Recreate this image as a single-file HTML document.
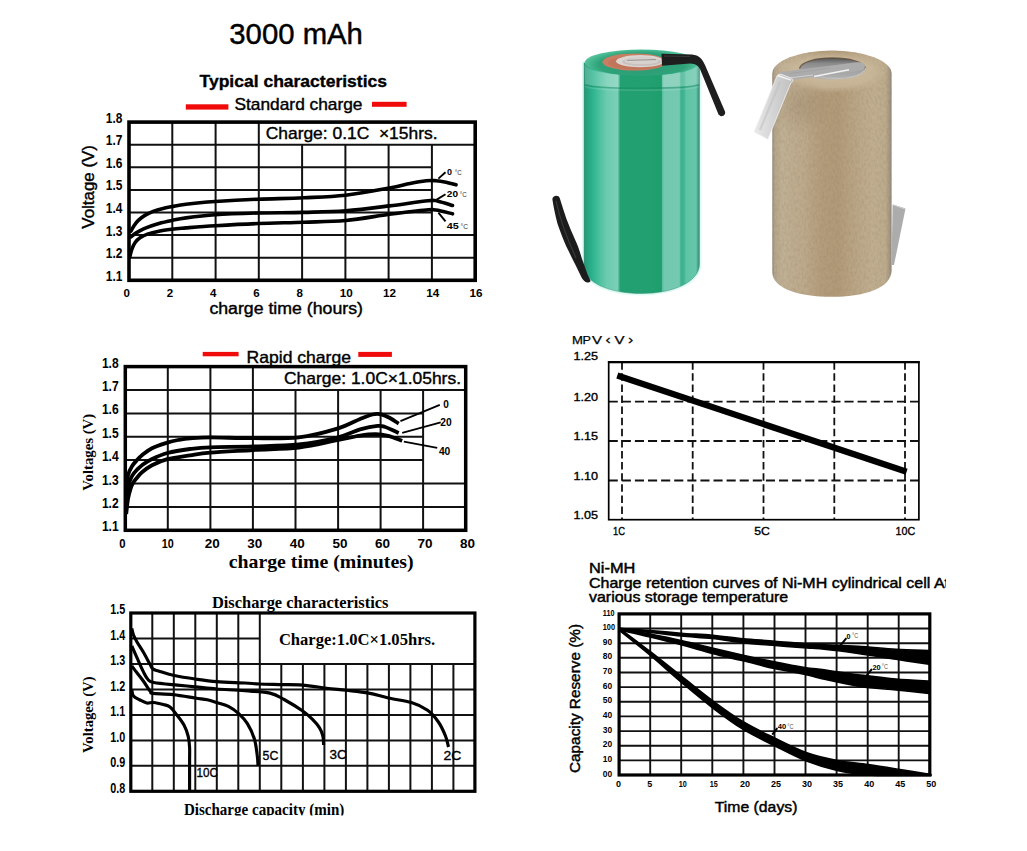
<!DOCTYPE html>
<html><head><meta charset="utf-8"><title>3000 mAh</title>
<style>
html,body{margin:0;padding:0;background:#fff;}
body{width:1027px;height:851px;overflow:hidden;position:relative;font-family:"Liberation Sans",sans-serif;}
svg{position:absolute;left:0;top:0;}
</style></head><body>
<svg width="1027" height="851" viewBox="0 0 1027 851">
<text x="229.3" y="43.8" font-family="Liberation Sans" font-size="30.00" font-weight="normal" text-anchor="start" fill="#000" textLength="133.6" lengthAdjust="spacingAndGlyphs" stroke="#000" stroke-width="0.45" >3000 mAh</text>
<text x="199.5" y="86.8" font-family="Liberation Sans" font-size="16.60" font-weight="bold" text-anchor="start" fill="#000" textLength="187.5" lengthAdjust="spacingAndGlyphs" stroke="#000" stroke-width="0.35" >Typical characteristics</text>
<text x="234.5" y="110.0" font-family="Liberation Sans" font-size="16.40" font-weight="normal" text-anchor="start" fill="#000" textLength="128.0" lengthAdjust="spacingAndGlyphs" stroke="#000" stroke-width="0.40" >Standard charge</text>
<rect x="185.8" y="104.3" width="42.6" height="5.3" fill="#f00a0a"/>
<rect x="372" y="101.8" width="34.6" height="5" fill="#f00a0a"/>
<line x1="129.0" y1="144.7" x2="475.2" y2="144.7" stroke="#111" stroke-width="2.00" />
<line x1="129.0" y1="167.3" x2="431.9" y2="167.3" stroke="#111" stroke-width="2.00" />
<line x1="129.0" y1="189.9" x2="431.9" y2="189.9" stroke="#111" stroke-width="2.00" />
<line x1="129.0" y1="212.5" x2="431.9" y2="212.5" stroke="#111" stroke-width="2.00" />
<line x1="129.0" y1="235.1" x2="475.2" y2="235.1" stroke="#111" stroke-width="2.00" />
<line x1="129.0" y1="257.7" x2="475.2" y2="257.7" stroke="#111" stroke-width="2.00" />
<line x1="172.3" y1="122.1" x2="172.3" y2="280.3" stroke="#111" stroke-width="2.00" />
<line x1="215.6" y1="122.1" x2="215.6" y2="280.3" stroke="#111" stroke-width="2.00" />
<line x1="258.8" y1="122.1" x2="258.8" y2="280.3" stroke="#111" stroke-width="2.00" />
<line x1="302.1" y1="144.7" x2="302.1" y2="280.3" stroke="#111" stroke-width="2.00" />
<line x1="345.4" y1="144.7" x2="345.4" y2="280.3" stroke="#111" stroke-width="2.00" />
<line x1="388.6" y1="144.7" x2="388.6" y2="280.3" stroke="#111" stroke-width="2.00" />
<line x1="431.9" y1="144.7" x2="431.9" y2="280.3" stroke="#111" stroke-width="2.00" />
<rect x="129.0" y="122.1" width="346.2" height="158.2" fill="none" stroke="#000" stroke-width="3.6"/>
<text x="265.7" y="139.1" font-family="Liberation Sans" font-size="17.00" font-weight="normal" text-anchor="start" fill="#000" textLength="171.8" lengthAdjust="spacingAndGlyphs" stroke="#000" stroke-width="0.40" >Charge: 0.1C&#160;&#160;×15hrs.</text>
<text x="122.4" y="122.5" font-family="Liberation Sans" font-size="14.00" font-weight="bold" text-anchor="end" fill="#000" textLength="16.6" lengthAdjust="spacingAndGlyphs" >1.8</text>
<text x="122.4" y="145.1" font-family="Liberation Sans" font-size="14.00" font-weight="bold" text-anchor="end" fill="#000" textLength="16.6" lengthAdjust="spacingAndGlyphs" >1.7</text>
<text x="122.4" y="167.7" font-family="Liberation Sans" font-size="14.00" font-weight="bold" text-anchor="end" fill="#000" textLength="16.6" lengthAdjust="spacingAndGlyphs" >1.6</text>
<text x="122.4" y="190.3" font-family="Liberation Sans" font-size="14.00" font-weight="bold" text-anchor="end" fill="#000" textLength="16.6" lengthAdjust="spacingAndGlyphs" >1.5</text>
<text x="122.4" y="212.9" font-family="Liberation Sans" font-size="14.00" font-weight="bold" text-anchor="end" fill="#000" textLength="16.6" lengthAdjust="spacingAndGlyphs" >1.4</text>
<text x="122.4" y="235.5" font-family="Liberation Sans" font-size="14.00" font-weight="bold" text-anchor="end" fill="#000" textLength="16.6" lengthAdjust="spacingAndGlyphs" >1.3</text>
<text x="122.4" y="258.1" font-family="Liberation Sans" font-size="14.00" font-weight="bold" text-anchor="end" fill="#000" textLength="16.6" lengthAdjust="spacingAndGlyphs" >1.2</text>
<text x="122.4" y="280.7" font-family="Liberation Sans" font-size="14.00" font-weight="bold" text-anchor="end" fill="#000" textLength="16.6" lengthAdjust="spacingAndGlyphs" >1.1</text>
<text x="126.6" y="297.3" font-family="Liberation Sans" font-size="11.80" font-weight="bold" text-anchor="middle" fill="#000" textLength="6.4" lengthAdjust="spacingAndGlyphs" >0</text>
<text x="169.9" y="297.3" font-family="Liberation Sans" font-size="11.80" font-weight="bold" text-anchor="middle" fill="#000" textLength="6.4" lengthAdjust="spacingAndGlyphs" >2</text>
<text x="213.2" y="297.3" font-family="Liberation Sans" font-size="11.80" font-weight="bold" text-anchor="middle" fill="#000" textLength="6.4" lengthAdjust="spacingAndGlyphs" >4</text>
<text x="256.4" y="297.3" font-family="Liberation Sans" font-size="11.80" font-weight="bold" text-anchor="middle" fill="#000" textLength="6.4" lengthAdjust="spacingAndGlyphs" >6</text>
<text x="299.7" y="297.3" font-family="Liberation Sans" font-size="11.80" font-weight="bold" text-anchor="middle" fill="#000" textLength="6.4" lengthAdjust="spacingAndGlyphs" >8</text>
<text x="346.3" y="297.3" font-family="Liberation Sans" font-size="11.80" font-weight="bold" text-anchor="middle" fill="#000" textLength="13.0" lengthAdjust="spacingAndGlyphs" >10</text>
<text x="389.5" y="297.3" font-family="Liberation Sans" font-size="11.80" font-weight="bold" text-anchor="middle" fill="#000" textLength="13.0" lengthAdjust="spacingAndGlyphs" >12</text>
<text x="432.8" y="297.3" font-family="Liberation Sans" font-size="11.80" font-weight="bold" text-anchor="middle" fill="#000" textLength="13.0" lengthAdjust="spacingAndGlyphs" >14</text>
<text x="476.1" y="297.3" font-family="Liberation Sans" font-size="11.80" font-weight="bold" text-anchor="middle" fill="#000" textLength="13.0" lengthAdjust="spacingAndGlyphs" >16</text>
<text transform="translate(94.0,228.7) rotate(-90)" font-family="Liberation Sans" font-size="17" stroke="#000" stroke-width="0.4" textLength="83.7" lengthAdjust="spacingAndGlyphs">Voltage (V)</text>
<text x="209.4" y="313.6" font-family="Liberation Sans" font-size="15.80" font-weight="normal" text-anchor="start" fill="#000" textLength="153.5" lengthAdjust="spacingAndGlyphs" stroke="#000" stroke-width="0.40" >charge time (hours)</text>
<path d="M130.9,231.2 C131.4,230.2 133.0,227.3 134.2,225.5 C135.4,223.7 136.5,222.1 138.3,220.4 C140.1,218.7 142.4,216.9 144.9,215.4 C147.4,213.9 150.2,212.6 153.2,211.4 C156.2,210.2 159.8,209.2 163.0,208.4 C166.2,207.6 168.3,207.3 172.1,206.6 C175.9,205.9 178.8,205.0 186.0,204.2 C193.2,203.3 203.3,202.3 215.3,201.5 C227.3,200.7 243.4,199.8 258.2,199.2 C272.9,198.6 289.2,198.5 303.8,197.8 C318.4,197.1 331.3,196.8 345.6,195.2 C359.9,193.6 378.7,189.9 389.4,188.0 C400.1,186.1 403.9,184.7 410.0,183.5 C416.1,182.3 421.9,181.3 426.2,180.8 C430.5,180.3 432.7,180.5 436.0,180.7 C439.3,180.9 442.7,181.5 446.0,182.2 C449.3,182.9 454.3,184.4 456.0,184.8" fill="none" stroke="#000" stroke-width="3.6" stroke-linecap="round"/>
<path d="M130.9,236.8 C131.4,236.4 133.0,235.1 134.2,234.2 C135.4,233.3 136.2,232.7 138.3,231.6 C140.4,230.5 143.2,229.0 146.6,227.6 C150.0,226.2 154.7,224.6 158.9,223.4 C163.2,222.2 167.6,221.3 172.1,220.4 C176.6,219.5 178.8,218.9 186.0,217.9 C193.2,216.9 203.3,215.5 215.3,214.7 C227.3,213.9 243.4,213.4 258.2,213.0 C272.9,212.6 289.2,212.8 303.8,212.4 C318.4,212.0 331.3,211.9 345.6,210.8 C359.9,209.7 375.7,207.6 389.4,205.9 C403.1,204.2 419.9,201.5 428.0,200.7 C436.1,199.9 433.9,200.4 438.0,201.2 C442.1,202.0 450.1,204.8 452.5,205.5" fill="none" stroke="#000" stroke-width="3.6" stroke-linecap="round"/>
<path d="M129.8,257.0 C130.1,255.7 130.9,251.7 131.8,249.3 C132.7,246.9 133.6,244.6 135.0,242.7 C136.4,240.8 137.9,239.2 140.0,237.8 C142.1,236.4 144.2,235.2 147.4,234.1 C150.6,233.0 154.8,232.0 158.9,231.2 C163.0,230.4 167.6,229.8 172.1,229.2 C176.6,228.6 178.8,228.5 186.0,227.9 C193.2,227.3 203.3,226.4 215.3,225.7 C227.3,225.0 243.4,224.1 258.2,223.5 C272.9,222.9 289.2,222.7 303.8,222.2 C318.4,221.7 331.3,221.8 345.6,220.5 C359.9,219.2 376.0,216.1 389.4,214.3 C402.8,212.6 418.4,210.7 426.2,210.0 C434.0,209.3 431.6,209.4 436.0,210.0 C440.4,210.6 449.8,213.2 452.5,213.8" fill="none" stroke="#000" stroke-width="3.6" stroke-linecap="round"/>
<line x1="438.4" y1="178.6" x2="445.5" y2="172.3" stroke="#000" stroke-width="1.90" />
<line x1="436.7" y1="199.6" x2="445.5" y2="194.2" stroke="#000" stroke-width="1.90" />
<line x1="438.4" y1="212.6" x2="445.5" y2="221.3" stroke="#000" stroke-width="1.90" />
<text x="447.0" y="174.5" font-family="Liberation Sans" font-size="9.20" font-weight="bold" text-anchor="start" fill="#000" textLength="5.0" lengthAdjust="spacingAndGlyphs" >0</text>
<text x="454.8" y="174.5" font-family="Liberation Sans" font-size="7.80" font-weight="normal" text-anchor="start" fill="#333" textLength="7.0" lengthAdjust="spacingAndGlyphs" >°C</text>
<text x="446.8" y="196.6" font-family="Liberation Sans" font-size="9.20" font-weight="bold" text-anchor="start" fill="#000" textLength="11.2" lengthAdjust="spacingAndGlyphs" >20</text>
<text x="459.8" y="196.6" font-family="Liberation Sans" font-size="7.80" font-weight="normal" text-anchor="start" fill="#333" textLength="7.0" lengthAdjust="spacingAndGlyphs" >°C</text>
<text x="446.8" y="228.8" font-family="Liberation Sans" font-size="9.20" font-weight="bold" text-anchor="start" fill="#000" textLength="12.0" lengthAdjust="spacingAndGlyphs" >45</text>
<text x="460.6" y="228.8" font-family="Liberation Sans" font-size="7.80" font-weight="normal" text-anchor="start" fill="#333" textLength="7.4" lengthAdjust="spacingAndGlyphs" >°C</text>
<line x1="125.3" y1="390.0" x2="465.7" y2="390.0" stroke="#111" stroke-width="2.00" />
<line x1="125.3" y1="413.4" x2="423.1" y2="413.4" stroke="#111" stroke-width="2.00" />
<line x1="125.3" y1="436.8" x2="423.1" y2="436.8" stroke="#111" stroke-width="2.00" />
<line x1="125.3" y1="460.1" x2="423.1" y2="460.1" stroke="#111" stroke-width="2.00" />
<line x1="125.3" y1="483.5" x2="465.7" y2="483.5" stroke="#111" stroke-width="2.00" />
<line x1="125.3" y1="506.9" x2="465.7" y2="506.9" stroke="#111" stroke-width="2.00" />
<line x1="167.8" y1="366.6" x2="167.8" y2="530.3" stroke="#111" stroke-width="2.00" />
<line x1="210.4" y1="366.6" x2="210.4" y2="530.3" stroke="#111" stroke-width="2.00" />
<line x1="252.9" y1="366.6" x2="252.9" y2="530.3" stroke="#111" stroke-width="2.00" />
<line x1="295.5" y1="390.0" x2="295.5" y2="530.3" stroke="#111" stroke-width="2.00" />
<line x1="338.1" y1="390.0" x2="338.1" y2="530.3" stroke="#111" stroke-width="2.00" />
<line x1="380.6" y1="390.0" x2="380.6" y2="530.3" stroke="#111" stroke-width="2.00" />
<line x1="423.1" y1="390.0" x2="423.1" y2="530.3" stroke="#111" stroke-width="2.00" />
<rect x="125.3" y="366.6" width="340.4" height="163.7" fill="none" stroke="#000" stroke-width="3.5"/>
<text x="284.0" y="383.8" font-family="Liberation Sans" font-size="17.00" font-weight="normal" text-anchor="start" fill="#000" textLength="177.0" lengthAdjust="spacingAndGlyphs" stroke="#000" stroke-width="0.40" >Charge: 1.0C×1.05hrs.</text>
<text x="246.5" y="362.6" font-family="Liberation Sans" font-size="16.50" font-weight="normal" text-anchor="start" fill="#000" textLength="104.5" lengthAdjust="spacingAndGlyphs" stroke="#000" stroke-width="0.40" >Rapid charge</text>
<rect x="202.7" y="351.9" width="35.9" height="4.4" fill="#f00a0a"/>
<rect x="358.3" y="351.9" width="33.6" height="5" fill="#f00a0a"/>
<text x="118.7" y="367.6" font-family="Liberation Sans" font-size="14.00" font-weight="bold" text-anchor="end" fill="#000" textLength="16.8" lengthAdjust="spacingAndGlyphs" >1.8</text>
<text x="118.7" y="391.0" font-family="Liberation Sans" font-size="14.00" font-weight="bold" text-anchor="end" fill="#000" textLength="16.8" lengthAdjust="spacingAndGlyphs" >1.7</text>
<text x="118.7" y="414.4" font-family="Liberation Sans" font-size="14.00" font-weight="bold" text-anchor="end" fill="#000" textLength="16.8" lengthAdjust="spacingAndGlyphs" >1.6</text>
<text x="118.7" y="437.8" font-family="Liberation Sans" font-size="14.00" font-weight="bold" text-anchor="end" fill="#000" textLength="16.8" lengthAdjust="spacingAndGlyphs" >1.5</text>
<text x="118.7" y="461.1" font-family="Liberation Sans" font-size="14.00" font-weight="bold" text-anchor="end" fill="#000" textLength="16.8" lengthAdjust="spacingAndGlyphs" >1.4</text>
<text x="118.7" y="484.5" font-family="Liberation Sans" font-size="14.00" font-weight="bold" text-anchor="end" fill="#000" textLength="16.8" lengthAdjust="spacingAndGlyphs" >1.3</text>
<text x="118.7" y="507.9" font-family="Liberation Sans" font-size="14.00" font-weight="bold" text-anchor="end" fill="#000" textLength="16.8" lengthAdjust="spacingAndGlyphs" >1.2</text>
<text x="118.7" y="531.3" font-family="Liberation Sans" font-size="14.00" font-weight="bold" text-anchor="end" fill="#000" textLength="16.8" lengthAdjust="spacingAndGlyphs" >1.1</text>
<text x="122.3" y="547.8" font-family="Liberation Sans" font-size="12.20" font-weight="bold" text-anchor="middle" fill="#000" textLength="6.3" lengthAdjust="spacingAndGlyphs" >0</text>
<text x="167.8" y="547.8" font-family="Liberation Sans" font-size="12.20" font-weight="bold" text-anchor="middle" fill="#000" textLength="12.0" lengthAdjust="spacingAndGlyphs" >10</text>
<text x="212.2" y="547.8" font-family="Liberation Sans" font-size="12.20" font-weight="bold" text-anchor="middle" fill="#000" textLength="15.0" lengthAdjust="spacingAndGlyphs" >20</text>
<text x="254.8" y="547.8" font-family="Liberation Sans" font-size="12.20" font-weight="bold" text-anchor="middle" fill="#000" textLength="15.0" lengthAdjust="spacingAndGlyphs" >30</text>
<text x="297.3" y="547.8" font-family="Liberation Sans" font-size="12.20" font-weight="bold" text-anchor="middle" fill="#000" textLength="15.0" lengthAdjust="spacingAndGlyphs" >40</text>
<text x="339.9" y="547.8" font-family="Liberation Sans" font-size="12.20" font-weight="bold" text-anchor="middle" fill="#000" textLength="15.0" lengthAdjust="spacingAndGlyphs" >50</text>
<text x="382.4" y="547.8" font-family="Liberation Sans" font-size="12.20" font-weight="bold" text-anchor="middle" fill="#000" textLength="15.0" lengthAdjust="spacingAndGlyphs" >60</text>
<text x="424.9" y="547.8" font-family="Liberation Sans" font-size="12.20" font-weight="bold" text-anchor="middle" fill="#000" textLength="15.0" lengthAdjust="spacingAndGlyphs" >70</text>
<text x="467.5" y="547.8" font-family="Liberation Sans" font-size="12.20" font-weight="bold" text-anchor="middle" fill="#000" textLength="15.0" lengthAdjust="spacingAndGlyphs" >80</text>
<text transform="translate(92.8,490.8) rotate(-90)" font-family="Liberation Serif" font-weight="bold" font-size="15.0" textLength="77" lengthAdjust="spacingAndGlyphs">Voltages (V)</text>
<text x="228.7" y="568.1" font-family="Liberation Serif" font-size="19.50" font-weight="bold" text-anchor="start" fill="#000" textLength="184.8" lengthAdjust="spacingAndGlyphs" >charge time (minutes)</text>
<path d="M125.8,500.0 C126.0,497.7 126.4,490.2 126.8,486.0 C127.2,481.8 127.1,478.3 128.0,475.0 C128.9,471.7 130.5,468.8 132.0,466.3 C133.5,463.8 135.3,461.9 137.0,460.0 C138.7,458.1 139.5,457.2 142.0,455.2 C144.5,453.2 147.8,450.3 152.0,448.2 C156.2,446.1 163.0,444.0 167.3,442.6 C171.6,441.2 174.2,440.7 178.0,440.0 C181.8,439.3 184.7,438.7 190.1,438.3 C195.5,437.9 199.8,437.4 210.3,437.4 C220.8,437.4 238.4,438.2 253.2,438.2 C267.9,438.2 284.8,438.9 298.8,437.3 C312.8,435.7 327.1,431.7 337.3,428.6 C347.5,425.6 354.2,421.4 360.1,419.0 C366.0,416.6 368.9,415.3 372.4,414.5 C375.9,413.7 378.2,413.7 381.1,414.3 C384.0,414.9 387.0,416.4 389.9,418.0 C392.8,419.6 397.2,422.7 398.7,423.6" fill="none" stroke="#000" stroke-width="3.8" stroke-linecap="butt"/>
<path d="M126.0,505.0 C126.3,502.3 126.9,493.1 127.6,489.0 C128.3,484.9 129.2,482.8 130.0,480.5 C130.8,478.2 131.3,477.0 132.5,475.2 C133.7,473.4 135.4,471.5 137.0,469.8 C138.6,468.1 139.5,467.0 142.0,465.2 C144.5,463.4 147.8,461.0 152.0,459.0 C156.2,457.0 161.0,454.7 167.3,453.0 C173.6,451.3 182.8,449.9 190.0,449.0 C197.2,448.1 199.8,447.7 210.3,447.3 C220.8,446.9 238.4,447.0 253.2,446.5 C267.9,446.0 284.8,446.0 298.8,444.5 C312.8,443.0 327.1,440.0 337.3,437.5 C347.5,435.0 353.4,431.3 360.1,429.4 C366.8,427.5 373.5,426.3 377.6,425.9 C381.7,425.5 381.1,425.6 384.6,426.8 C388.1,428.0 396.4,432.0 398.7,433.0" fill="none" stroke="#000" stroke-width="3.8" stroke-linecap="butt"/>
<path d="M126.2,514.0 C126.5,511.5 127.3,503.2 128.0,499.0 C128.7,494.8 129.7,491.7 130.5,489.0 C131.3,486.3 131.9,484.9 133.0,483.0 C134.1,481.1 135.5,479.6 137.0,477.8 C138.5,476.0 139.5,474.4 142.0,472.3 C144.5,470.2 147.8,467.5 152.0,465.3 C156.2,463.1 161.0,460.9 167.3,459.2 C173.6,457.5 182.8,456.4 190.0,455.3 C197.2,454.2 199.8,453.5 210.3,452.6 C220.8,451.7 238.4,450.9 253.2,450.0 C267.9,449.1 284.8,449.1 298.8,447.5 C312.8,445.9 327.1,442.2 337.3,440.2 C347.5,438.2 353.7,436.6 360.1,435.6 C366.5,434.6 371.2,434.1 375.9,434.2 C380.6,434.2 383.7,434.8 388.1,435.9 C392.5,437.0 399.9,440.0 402.2,440.8" fill="none" stroke="#000" stroke-width="3.8" stroke-linecap="butt"/>
<line x1="400.4" y1="421.2" x2="439.8" y2="404.9" stroke="#000" stroke-width="1.80" />
<line x1="402.2" y1="432.9" x2="440.7" y2="422.4" stroke="#000" stroke-width="1.80" />
<line x1="403.9" y1="441.7" x2="437.2" y2="447.8" stroke="#000" stroke-width="1.80" />
<text x="443.3" y="407.6" font-family="Liberation Sans" font-size="10.80" font-weight="bold" text-anchor="start" fill="#000" textLength="5.6" lengthAdjust="spacingAndGlyphs" >0</text>
<text x="440.2" y="426.2" font-family="Liberation Sans" font-size="10.80" font-weight="bold" text-anchor="start" fill="#000" textLength="11.4" lengthAdjust="spacingAndGlyphs" >20</text>
<text x="438.9" y="455.4" font-family="Liberation Sans" font-size="10.80" font-weight="bold" text-anchor="start" fill="#000" textLength="11.4" lengthAdjust="spacingAndGlyphs" >40</text>
<line x1="130.8" y1="638.5" x2="259.8" y2="638.5" stroke="#111" stroke-width="2.00" />
<line x1="130.8" y1="663.9" x2="474.9" y2="663.9" stroke="#111" stroke-width="2.00" />
<line x1="130.8" y1="689.4" x2="474.9" y2="689.4" stroke="#111" stroke-width="2.00" />
<line x1="130.8" y1="714.9" x2="474.9" y2="714.9" stroke="#111" stroke-width="2.00" />
<line x1="130.8" y1="740.4" x2="474.9" y2="740.4" stroke="#111" stroke-width="2.00" />
<line x1="130.8" y1="765.8" x2="474.9" y2="765.8" stroke="#111" stroke-width="2.00" />
<line x1="152.3" y1="613.0" x2="152.3" y2="791.3" stroke="#111" stroke-width="2.00" />
<line x1="173.8" y1="613.0" x2="173.8" y2="791.3" stroke="#111" stroke-width="2.00" />
<line x1="195.3" y1="613.0" x2="195.3" y2="791.3" stroke="#111" stroke-width="2.00" />
<line x1="216.8" y1="613.0" x2="216.8" y2="791.3" stroke="#111" stroke-width="2.00" />
<line x1="238.3" y1="613.0" x2="238.3" y2="791.3" stroke="#111" stroke-width="2.00" />
<line x1="259.8" y1="613.0" x2="259.8" y2="791.3" stroke="#111" stroke-width="2.00" />
<line x1="281.3" y1="663.9" x2="281.3" y2="791.3" stroke="#111" stroke-width="2.00" />
<line x1="302.9" y1="663.9" x2="302.9" y2="791.3" stroke="#111" stroke-width="2.00" />
<line x1="324.4" y1="663.9" x2="324.4" y2="791.3" stroke="#111" stroke-width="2.00" />
<line x1="345.9" y1="663.9" x2="345.9" y2="791.3" stroke="#111" stroke-width="2.00" />
<line x1="367.4" y1="663.9" x2="367.4" y2="791.3" stroke="#111" stroke-width="2.00" />
<line x1="388.9" y1="663.9" x2="388.9" y2="791.3" stroke="#111" stroke-width="2.00" />
<line x1="410.4" y1="663.9" x2="410.4" y2="791.3" stroke="#111" stroke-width="2.00" />
<line x1="431.9" y1="663.9" x2="431.9" y2="791.3" stroke="#111" stroke-width="2.00" />
<line x1="453.4" y1="663.9" x2="453.4" y2="791.3" stroke="#111" stroke-width="2.00" />
<rect x="130.8" y="613.0" width="344.1" height="178.3" fill="none" stroke="#000" stroke-width="3.2"/>
<text x="278.9" y="645.0" font-family="Liberation Serif" font-size="17.20" font-weight="bold" text-anchor="start" fill="#000" textLength="156.2" lengthAdjust="spacingAndGlyphs" >Charge:1.0C×1.05hrs.</text>
<text x="211.9" y="607.8" font-family="Liberation Serif" font-size="16.90" font-weight="bold" text-anchor="start" fill="#000" textLength="176.5" lengthAdjust="spacingAndGlyphs" >Discharge characteristics</text>
<clipPath id="clipdc"><rect x="0" y="790" width="600" height="25.4"/></clipPath>
<text x="183.9" y="814.8" font-family="Liberation Serif" font-size="16.30" font-weight="bold" text-anchor="start" fill="#000" textLength="160.4" lengthAdjust="spacingAndGlyphs" clip-path="url(#clipdc)">Discharge capacity (min)</text>
<text x="125.2" y="614.2" font-family="Liberation Sans" font-size="14.20" font-weight="bold" text-anchor="end" fill="#000" textLength="15.0" lengthAdjust="spacingAndGlyphs" >1.5</text>
<text x="125.2" y="639.7" font-family="Liberation Sans" font-size="14.20" font-weight="bold" text-anchor="end" fill="#000" textLength="15.0" lengthAdjust="spacingAndGlyphs" >1.4</text>
<text x="125.2" y="665.1" font-family="Liberation Sans" font-size="14.20" font-weight="bold" text-anchor="end" fill="#000" textLength="15.0" lengthAdjust="spacingAndGlyphs" >1.3</text>
<text x="125.2" y="690.6" font-family="Liberation Sans" font-size="14.20" font-weight="bold" text-anchor="end" fill="#000" textLength="15.0" lengthAdjust="spacingAndGlyphs" >1.2</text>
<text x="125.2" y="716.1" font-family="Liberation Sans" font-size="14.20" font-weight="bold" text-anchor="end" fill="#000" textLength="15.0" lengthAdjust="spacingAndGlyphs" >1.1</text>
<text x="125.2" y="741.6" font-family="Liberation Sans" font-size="14.20" font-weight="bold" text-anchor="end" fill="#000" textLength="15.0" lengthAdjust="spacingAndGlyphs" >1.0</text>
<text x="125.2" y="767.0" font-family="Liberation Sans" font-size="14.20" font-weight="bold" text-anchor="end" fill="#000" textLength="15.0" lengthAdjust="spacingAndGlyphs" >0.9</text>
<text x="125.2" y="792.5" font-family="Liberation Sans" font-size="14.20" font-weight="bold" text-anchor="end" fill="#000" textLength="15.0" lengthAdjust="spacingAndGlyphs" >0.8</text>
<text transform="translate(92.9,752.9) rotate(-90)" font-family="Liberation Serif" font-weight="bold" font-size="15.0" textLength="76.5" lengthAdjust="spacingAndGlyphs">Voltages (V)</text>
<path d="M131.8,628.5 C132.1,629.6 132.6,632.8 133.5,635.0 C134.4,637.2 135.4,639.2 137.0,642.0 C138.6,644.8 141.1,648.2 143.3,652.0 C145.5,655.8 148.7,662.0 150.3,664.8 C151.9,667.6 151.6,668.0 153.0,669.0 C154.4,670.0 155.1,670.0 158.5,671.0 C161.9,672.0 167.1,674.0 173.2,675.3 C179.3,676.6 187.9,678.0 195.2,679.0 C202.4,680.0 208.4,680.9 216.7,681.6 C225.0,682.3 237.8,682.6 244.9,683.0 C252.0,683.4 253.3,683.7 259.2,684.0 C265.1,684.3 272.8,684.4 280.0,684.6 C287.2,684.8 294.7,684.5 302.4,685.1 C310.1,685.7 319.1,687.3 326.4,688.2 C333.7,689.1 339.1,689.5 346.1,690.3 C353.2,691.1 361.6,691.8 368.7,693.1 C375.8,694.4 381.3,696.4 388.4,698.0 C395.5,699.6 404.9,700.6 411.4,702.6 C417.9,704.6 423.1,707.1 427.6,710.3 C432.1,713.5 435.4,717.7 438.4,722.0 C441.4,726.3 443.8,731.8 445.5,736.0 C447.2,740.2 448.0,745.2 448.5,747.0" fill="none" stroke="#000" stroke-width="3.15" stroke-linejoin="round"/>
<path d="M131.8,646.0 C132.7,648.1 135.5,654.4 137.4,658.7 C139.3,663.0 141.5,668.1 143.3,671.6 C145.1,675.1 146.2,677.7 148.0,679.5 C149.8,681.3 148.9,681.6 153.8,682.5 C158.7,683.4 170.4,684.4 177.3,685.1 C184.2,685.8 188.6,686.2 195.2,686.9 C201.8,687.5 208.4,688.4 216.7,689.0 C225.0,689.6 236.0,690.1 244.9,690.8 C253.8,691.5 263.5,691.6 270.0,693.1 C276.5,694.6 278.7,696.5 284.1,699.5 C289.5,702.5 297.7,707.5 302.4,710.8 C307.1,714.1 309.5,716.4 312.3,719.2 C315.1,722.0 317.6,724.9 319.4,727.7 C321.2,730.5 322.2,733.2 322.9,736.1 C323.6,739.0 323.5,743.5 323.6,745.0" fill="none" stroke="#000" stroke-width="3.15" stroke-linejoin="round"/>
<path d="M131.8,666.0 C132.5,667.0 134.3,669.3 136.2,671.8 C138.1,674.3 141.0,677.7 143.3,681.0 C145.7,684.3 148.7,689.3 150.3,691.4 C151.9,693.5 149.2,692.9 153.0,693.4 C156.8,693.9 166.2,693.8 173.2,694.6 C180.2,695.4 189.5,697.1 195.2,698.0 C200.9,698.9 203.7,699.0 207.3,699.8 C210.9,700.6 213.2,701.5 216.7,702.6 C220.2,703.7 224.7,704.5 228.4,706.4 C232.1,708.3 235.8,710.9 239.0,713.8 C242.2,716.7 244.8,719.5 247.4,723.7 C250.0,727.9 252.8,733.8 254.5,739.2 C256.1,744.6 256.7,751.6 257.3,756.1 C257.9,760.6 257.9,764.4 258.0,766.0" fill="none" stroke="#000" stroke-width="3.15" stroke-linejoin="round"/>
<path d="M131.8,690.0 C132.1,691.0 132.1,694.3 133.5,696.0 C134.9,697.7 137.8,698.8 140.0,700.0 C142.2,701.2 144.5,702.6 146.8,703.0 C149.1,703.4 151.1,702.2 153.8,702.5 C156.5,702.8 160.5,703.8 163.2,704.5 C165.9,705.2 167.7,705.2 170.0,707.0 C172.3,708.8 174.6,712.0 176.9,715.0 C179.2,718.0 182.1,721.5 184.0,725.1 C185.9,728.7 187.3,732.6 188.2,736.4 C189.1,740.2 189.4,743.8 189.6,747.7 C189.8,751.6 189.6,752.6 189.6,760.0 C189.6,767.4 189.6,786.7 189.6,792.0" fill="none" stroke="#000" stroke-width="3.15" stroke-linejoin="round"/>
<text x="196.6" y="777.3" font-family="Liberation Sans" font-size="13.20" font-weight="normal" text-anchor="start" fill="#000" textLength="21.5" lengthAdjust="spacingAndGlyphs" stroke="#000" stroke-width="0.35" >10C</text>
<text x="262.6" y="759.7" font-family="Liberation Sans" font-size="13.20" font-weight="normal" text-anchor="start" fill="#000" textLength="15.8" lengthAdjust="spacingAndGlyphs" stroke="#000" stroke-width="0.35" >5C</text>
<text x="329.6" y="759.4" font-family="Liberation Sans" font-size="13.20" font-weight="normal" text-anchor="start" fill="#000" textLength="17.2" lengthAdjust="spacingAndGlyphs" stroke="#000" stroke-width="0.35" >3C</text>
<text x="443.5" y="760.3" font-family="Liberation Sans" font-size="13.20" font-weight="normal" text-anchor="start" fill="#000" textLength="17.9" lengthAdjust="spacingAndGlyphs" stroke="#000" stroke-width="0.35" >2C</text>
<line x1="622.0" y1="362.2" x2="622.0" y2="519.7" stroke="#111" stroke-width="1.80" stroke-dasharray="7.5 3.6"/>
<line x1="692.7" y1="362.2" x2="692.7" y2="519.7" stroke="#111" stroke-width="1.80" stroke-dasharray="7.5 3.6"/>
<line x1="763.5" y1="362.2" x2="763.5" y2="519.7" stroke="#111" stroke-width="1.80" stroke-dasharray="7.5 3.6"/>
<line x1="834.3" y1="362.2" x2="834.3" y2="519.7" stroke="#111" stroke-width="1.80" stroke-dasharray="7.5 3.6"/>
<line x1="905.0" y1="362.2" x2="905.0" y2="519.7" stroke="#111" stroke-width="1.80" stroke-dasharray="7.5 3.6"/>
<line x1="608.7" y1="401.6" x2="918.9" y2="401.6" stroke="#111" stroke-width="1.80" stroke-dasharray="9.1 4.0"/>
<line x1="608.7" y1="441.0" x2="918.9" y2="441.0" stroke="#111" stroke-width="1.80" stroke-dasharray="9.1 4.0"/>
<line x1="608.7" y1="480.5" x2="918.9" y2="480.5" stroke="#111" stroke-width="1.80" stroke-dasharray="9.1 4.0"/>
<rect x="608.7" y="362.2" width="310.2" height="157.5" fill="none" stroke="#000" stroke-width="1.7"/>
<line x1="607.9" y1="362.2" x2="919.7" y2="362.2" stroke="#000" stroke-width="2.20" />
<line x1="617.3" y1="375.4" x2="906.6" y2="471.8" stroke="#000" stroke-width="6.3"/>
<text x="572.0" y="343.6" font-family="Liberation Sans" font-size="11.80" font-weight="normal" text-anchor="start" fill="#000" textLength="10.9" lengthAdjust="spacingAndGlyphs" stroke="#000" stroke-width="0.25" >M</text>
<text x="582.5" y="343.6" font-family="Liberation Sans" font-size="11.80" font-weight="normal" text-anchor="start" fill="#000" textLength="8.4" lengthAdjust="spacingAndGlyphs" stroke="#000" stroke-width="0.25" >P</text>
<text x="592.0" y="343.6" font-family="Liberation Sans" font-size="11.80" font-weight="normal" text-anchor="start" fill="#000" textLength="10.0" lengthAdjust="spacingAndGlyphs" stroke="#000" stroke-width="0.25" >V</text>
<text x="605.6" y="343.6" font-family="Liberation Sans" font-size="12.50" font-weight="normal" text-anchor="start" fill="#000" textLength="5.2" lengthAdjust="spacingAndGlyphs" stroke="#000" stroke-width="0.25" >‹</text>
<text x="614.5" y="343.6" font-family="Liberation Sans" font-size="11.80" font-weight="normal" text-anchor="start" fill="#000" textLength="10.0" lengthAdjust="spacingAndGlyphs" stroke="#000" stroke-width="0.25" >V</text>
<text x="628.0" y="343.6" font-family="Liberation Sans" font-size="12.50" font-weight="normal" text-anchor="start" fill="#000" textLength="5.2" lengthAdjust="spacingAndGlyphs" stroke="#000" stroke-width="0.25" >›</text>
<text x="573.4" y="360.1" font-family="Liberation Sans" font-size="11.00" font-weight="normal" text-anchor="start" fill="#000" textLength="24.6" lengthAdjust="spacingAndGlyphs" stroke="#000" stroke-width="0.35" >1.25</text>
<text x="573.4" y="400.5" font-family="Liberation Sans" font-size="11.00" font-weight="normal" text-anchor="start" fill="#000" textLength="24.6" lengthAdjust="spacingAndGlyphs" stroke="#000" stroke-width="0.35" >1.20</text>
<text x="573.4" y="440.0" font-family="Liberation Sans" font-size="11.00" font-weight="normal" text-anchor="start" fill="#000" textLength="24.6" lengthAdjust="spacingAndGlyphs" stroke="#000" stroke-width="0.35" >1.15</text>
<text x="573.4" y="479.8" font-family="Liberation Sans" font-size="11.00" font-weight="normal" text-anchor="start" fill="#000" textLength="24.6" lengthAdjust="spacingAndGlyphs" stroke="#000" stroke-width="0.35" >1.10</text>
<text x="573.4" y="518.8" font-family="Liberation Sans" font-size="11.00" font-weight="normal" text-anchor="start" fill="#000" textLength="24.6" lengthAdjust="spacingAndGlyphs" stroke="#000" stroke-width="0.35" >1.05</text>
<text x="613.0" y="535.0" font-family="Liberation Sans" font-size="11.00" font-weight="normal" text-anchor="start" fill="#000" textLength="12.0" lengthAdjust="spacingAndGlyphs" stroke="#000" stroke-width="0.35" >1C</text>
<text x="754.3" y="535.0" font-family="Liberation Sans" font-size="11.00" font-weight="normal" text-anchor="start" fill="#000" textLength="15.6" lengthAdjust="spacingAndGlyphs" stroke="#000" stroke-width="0.35" >5C</text>
<text x="895.6" y="535.0" font-family="Liberation Sans" font-size="11.00" font-weight="normal" text-anchor="start" fill="#000" textLength="19.6" lengthAdjust="spacingAndGlyphs" stroke="#000" stroke-width="0.35" >10C</text>
<line x1="619.1" y1="628.5" x2="929.8" y2="628.5" stroke="#111" stroke-width="1.90" />
<line x1="619.1" y1="643.2" x2="929.8" y2="643.2" stroke="#111" stroke-width="1.90" />
<line x1="619.1" y1="657.8" x2="929.8" y2="657.8" stroke="#111" stroke-width="1.90" />
<line x1="619.1" y1="672.5" x2="929.8" y2="672.5" stroke="#111" stroke-width="1.90" />
<line x1="619.1" y1="687.1" x2="929.8" y2="687.1" stroke="#111" stroke-width="1.90" />
<line x1="619.1" y1="701.8" x2="929.8" y2="701.8" stroke="#111" stroke-width="1.90" />
<line x1="619.1" y1="716.4" x2="929.8" y2="716.4" stroke="#111" stroke-width="1.90" />
<line x1="619.1" y1="731.1" x2="929.8" y2="731.1" stroke="#111" stroke-width="1.90" />
<line x1="619.1" y1="745.7" x2="929.8" y2="745.7" stroke="#111" stroke-width="1.90" />
<line x1="619.1" y1="760.4" x2="929.8" y2="760.4" stroke="#111" stroke-width="1.90" />
<line x1="650.2" y1="613.9" x2="650.2" y2="775.0" stroke="#111" stroke-width="1.90" />
<line x1="681.2" y1="613.9" x2="681.2" y2="775.0" stroke="#111" stroke-width="1.90" />
<line x1="712.3" y1="613.9" x2="712.3" y2="775.0" stroke="#111" stroke-width="1.90" />
<line x1="743.4" y1="613.9" x2="743.4" y2="775.0" stroke="#111" stroke-width="1.90" />
<line x1="774.5" y1="613.9" x2="774.5" y2="775.0" stroke="#111" stroke-width="1.90" />
<line x1="805.5" y1="613.9" x2="805.5" y2="775.0" stroke="#111" stroke-width="1.90" />
<line x1="836.6" y1="613.9" x2="836.6" y2="775.0" stroke="#111" stroke-width="1.90" />
<line x1="867.7" y1="613.9" x2="867.7" y2="775.0" stroke="#111" stroke-width="1.90" />
<line x1="898.7" y1="613.9" x2="898.7" y2="775.0" stroke="#111" stroke-width="1.90" />
<rect x="619.1" y="613.9" width="310.7" height="161.1" fill="none" stroke="#000" stroke-width="3.2"/>
<text x="589.0" y="573.0" font-family="Liberation Sans" font-size="14.50" font-weight="normal" text-anchor="start" fill="#000" textLength="46.3" lengthAdjust="spacingAndGlyphs" stroke="#000" stroke-width="0.45" >Ni-MH</text>
<clipPath id="cliphdr"><rect x="0" y="560" width="946" height="40"/></clipPath>
<text x="589.0" y="588.1" font-family="Liberation Sans" font-size="14.50" font-weight="normal" text-anchor="start" fill="#000" textLength="360.0" lengthAdjust="spacingAndGlyphs" stroke="#000" stroke-width="0.45" clip-path="url(#cliphdr)">Charge retention curves of Ni-MH cylindrical cell At</text>
<text x="589.0" y="601.8" font-family="Liberation Sans" font-size="14.50" font-weight="normal" text-anchor="start" fill="#000" textLength="199.2" lengthAdjust="spacingAndGlyphs" stroke="#000" stroke-width="0.45" >various storage temperature</text>
<text x="602.8" y="615.5" font-family="Liberation Sans" font-size="9.40" font-weight="bold" text-anchor="start" fill="#000" textLength="11.6" lengthAdjust="spacingAndGlyphs" >110</text>
<text x="602.8" y="630.1" font-family="Liberation Sans" font-size="9.40" font-weight="bold" text-anchor="start" fill="#000" textLength="12.2" lengthAdjust="spacingAndGlyphs" >100</text>
<text x="602.8" y="644.8" font-family="Liberation Sans" font-size="9.40" font-weight="bold" text-anchor="start" fill="#000" textLength="9.4" lengthAdjust="spacingAndGlyphs" >90</text>
<text x="602.8" y="659.4" font-family="Liberation Sans" font-size="9.40" font-weight="bold" text-anchor="start" fill="#000" textLength="9.4" lengthAdjust="spacingAndGlyphs" >80</text>
<text x="602.8" y="674.1" font-family="Liberation Sans" font-size="9.40" font-weight="bold" text-anchor="start" fill="#000" textLength="9.4" lengthAdjust="spacingAndGlyphs" >70</text>
<text x="602.8" y="688.7" font-family="Liberation Sans" font-size="9.40" font-weight="bold" text-anchor="start" fill="#000" textLength="9.4" lengthAdjust="spacingAndGlyphs" >60</text>
<text x="602.8" y="703.4" font-family="Liberation Sans" font-size="9.40" font-weight="bold" text-anchor="start" fill="#000" textLength="9.4" lengthAdjust="spacingAndGlyphs" >50</text>
<text x="602.8" y="718.0" font-family="Liberation Sans" font-size="9.40" font-weight="bold" text-anchor="start" fill="#000" textLength="9.4" lengthAdjust="spacingAndGlyphs" >40</text>
<text x="602.8" y="732.7" font-family="Liberation Sans" font-size="9.40" font-weight="bold" text-anchor="start" fill="#000" textLength="9.4" lengthAdjust="spacingAndGlyphs" >30</text>
<text x="602.8" y="747.3" font-family="Liberation Sans" font-size="9.40" font-weight="bold" text-anchor="start" fill="#000" textLength="9.4" lengthAdjust="spacingAndGlyphs" >20</text>
<text x="602.8" y="762.0" font-family="Liberation Sans" font-size="9.40" font-weight="bold" text-anchor="start" fill="#000" textLength="9.4" lengthAdjust="spacingAndGlyphs" >10</text>
<text x="602.8" y="776.6" font-family="Liberation Sans" font-size="9.40" font-weight="bold" text-anchor="start" fill="#000" textLength="9.4" lengthAdjust="spacingAndGlyphs" >00</text>
<text x="618.6" y="787.4" font-family="Liberation Sans" font-size="9.60" font-weight="bold" text-anchor="middle" fill="#000" textLength="5.0" lengthAdjust="spacingAndGlyphs" >0</text>
<text x="649.7" y="787.4" font-family="Liberation Sans" font-size="9.60" font-weight="bold" text-anchor="middle" fill="#000" textLength="5.0" lengthAdjust="spacingAndGlyphs" >5</text>
<text x="682.7" y="787.4" font-family="Liberation Sans" font-size="9.60" font-weight="bold" text-anchor="middle" fill="#000" textLength="8.0" lengthAdjust="spacingAndGlyphs" >10</text>
<text x="713.8" y="787.4" font-family="Liberation Sans" font-size="9.60" font-weight="bold" text-anchor="middle" fill="#000" textLength="8.0" lengthAdjust="spacingAndGlyphs" >15</text>
<text x="744.9" y="787.4" font-family="Liberation Sans" font-size="9.60" font-weight="bold" text-anchor="middle" fill="#000" textLength="10.0" lengthAdjust="spacingAndGlyphs" >20</text>
<text x="776.0" y="787.4" font-family="Liberation Sans" font-size="9.60" font-weight="bold" text-anchor="middle" fill="#000" textLength="10.0" lengthAdjust="spacingAndGlyphs" >25</text>
<text x="807.0" y="787.4" font-family="Liberation Sans" font-size="9.60" font-weight="bold" text-anchor="middle" fill="#000" textLength="10.0" lengthAdjust="spacingAndGlyphs" >30</text>
<text x="838.1" y="787.4" font-family="Liberation Sans" font-size="9.60" font-weight="bold" text-anchor="middle" fill="#000" textLength="10.0" lengthAdjust="spacingAndGlyphs" >35</text>
<text x="869.2" y="787.4" font-family="Liberation Sans" font-size="9.60" font-weight="bold" text-anchor="middle" fill="#000" textLength="10.0" lengthAdjust="spacingAndGlyphs" >40</text>
<text x="900.2" y="787.4" font-family="Liberation Sans" font-size="9.60" font-weight="bold" text-anchor="middle" fill="#000" textLength="10.0" lengthAdjust="spacingAndGlyphs" >45</text>
<text x="931.3" y="787.4" font-family="Liberation Sans" font-size="9.60" font-weight="bold" text-anchor="middle" fill="#000" textLength="10.0" lengthAdjust="spacingAndGlyphs" >50</text>
<text transform="translate(579.6,773.0) rotate(-90)" font-family="Liberation Sans" font-size="15.3" stroke="#000" stroke-width="0.45" textLength="149" lengthAdjust="spacingAndGlyphs">Capacity Reserve (%)</text>
<text x="714.8" y="811.5" font-family="Liberation Sans" font-size="15.30" font-weight="normal" text-anchor="start" fill="#000" textLength="82.6" lengthAdjust="spacingAndGlyphs" stroke="#000" stroke-width="0.45" >Time (days)</text>
<path d="M619.5,628.3 C624.6,628.7 639.7,629.7 650.0,630.5 C660.3,631.3 670.8,632.4 681.1,633.2 C691.4,634.0 701.6,634.3 712.0,635.2 C722.4,636.1 732.7,637.8 743.2,638.8 C753.7,639.8 764.4,640.3 775.0,641.2 C785.6,642.1 799.4,643.5 806.9,644.0 C814.4,644.5 811.5,644.1 820.0,644.5 C828.5,644.9 845.3,645.4 858.0,646.2 C870.7,647.0 884.2,648.7 896.0,649.4 C907.8,650.1 923.5,650.4 929.0,650.6 L929.0,664.3 C923.5,663.5 907.8,661.1 896.0,659.3 C884.2,657.5 870.7,655.1 858.0,653.4 C845.3,651.6 828.5,649.7 820.0,648.8 C811.5,647.9 814.4,648.5 806.9,648.0 C799.4,647.5 785.6,646.4 775.0,645.5 C764.4,644.6 753.7,643.8 743.2,642.6 C732.7,641.4 722.4,639.6 712.0,638.5 C701.6,637.4 691.4,637.0 681.1,636.0 C670.8,635.0 660.3,633.6 650.0,632.5 C639.7,631.4 624.6,630.0 619.5,629.5 Z" fill="#000" stroke="#000" stroke-width="1.6" stroke-linejoin="round"/>
<path d="M619.5,628.3 C624.6,629.3 639.8,632.1 650.1,634.1 C660.4,636.1 670.8,638.2 681.1,640.5 C691.5,642.8 701.9,645.5 712.2,648.0 C722.6,650.5 732.9,652.9 743.2,655.2 C753.5,657.5 763.7,659.7 774.2,661.8 C784.7,663.9 798.5,666.5 806.1,667.8 C813.7,669.0 811.4,668.1 820.0,669.3 C828.6,670.4 845.3,673.1 858.0,674.7 C870.7,676.3 884.2,678.1 896.0,679.1 C907.8,680.1 923.5,680.7 929.0,681.0 L929.0,693.4 C923.5,692.8 907.8,691.2 896.0,690.0 C884.2,688.8 870.7,688.1 858.0,686.1 C845.3,684.1 828.6,680.2 820.0,678.3 C811.4,676.4 813.7,676.2 806.1,674.6 C798.5,673.0 784.7,670.8 774.2,668.5 C763.7,666.2 753.5,663.3 743.2,660.8 C732.9,658.3 722.6,656.2 712.2,653.5 C701.9,650.8 691.5,647.5 681.1,644.8 C670.8,642.0 660.4,639.5 650.1,637.0 C639.8,634.5 624.6,631.2 619.5,630.0 Z" fill="#000" stroke="#000" stroke-width="1.6" stroke-linejoin="round"/>
<path d="M619.5,628.3 C624.6,632.2 639.8,643.5 650.1,651.5 C660.4,659.5 670.8,667.9 681.1,676.0 C691.5,684.1 701.9,692.8 712.2,700.4 C722.6,708.0 732.9,715.6 743.2,721.8 C753.5,728.0 763.7,732.7 774.2,737.8 C784.7,742.9 795.6,748.7 806.1,752.5 C816.6,756.3 826.8,758.5 837.2,760.5 C847.6,762.5 857.9,763.0 868.4,764.5 C878.9,766.0 889.6,767.8 900.0,769.5 C910.4,771.2 925.8,773.7 931.0,774.5 L931.0,775.5 C925.8,775.5 910.4,775.6 900.0,775.5 C889.6,775.4 878.9,775.8 868.4,775.0 C857.9,774.2 847.6,772.9 837.2,770.5 C826.8,768.1 816.6,765.0 806.1,760.8 C795.6,756.6 784.7,750.7 774.2,745.5 C763.7,740.3 753.5,735.7 743.2,729.4 C732.9,723.1 722.6,715.4 712.2,707.5 C701.9,699.6 691.5,690.8 681.1,682.1 C670.8,673.4 660.4,663.8 650.1,655.2 C639.8,646.6 624.6,634.6 619.5,630.5 Z" fill="#000" stroke="#000" stroke-width="1.6" stroke-linejoin="round"/>
<line x1="840.3" y1="645.6" x2="846.4" y2="638.2" stroke="#000" stroke-width="2.00" />
<line x1="866.8" y1="675.3" x2="871.9" y2="669.0" stroke="#000" stroke-width="2.00" />
<line x1="772.3" y1="734.7" x2="777.3" y2="728.1" stroke="#000" stroke-width="2.00" />
<text x="846.4" y="638.6" font-family="Liberation Sans" font-size="7.60" font-weight="bold" text-anchor="start" fill="#000" textLength="4.0" lengthAdjust="spacingAndGlyphs" >0</text>
<text x="852.0" y="638.4" font-family="Liberation Sans" font-size="6.60" font-weight="normal" text-anchor="start" fill="#555" textLength="6.2" lengthAdjust="spacingAndGlyphs" >°C</text>
<text x="872.4" y="669.6" font-family="Liberation Sans" font-size="7.60" font-weight="bold" text-anchor="start" fill="#000" textLength="8.3" lengthAdjust="spacingAndGlyphs" >20</text>
<text x="881.8" y="669.4" font-family="Liberation Sans" font-size="6.60" font-weight="normal" text-anchor="start" fill="#555" textLength="6.2" lengthAdjust="spacingAndGlyphs" >°C</text>
<text x="777.8" y="729.1" font-family="Liberation Sans" font-size="7.60" font-weight="bold" text-anchor="start" fill="#000" textLength="8.4" lengthAdjust="spacingAndGlyphs" >40</text>
<text x="787.2" y="728.9" font-family="Liberation Sans" font-size="6.60" font-weight="normal" text-anchor="start" fill="#555" textLength="6.2" lengthAdjust="spacingAndGlyphs" >°C</text>
<defs>
<linearGradient id="gbody" x1="584" y1="0" x2="699.5" y2="0" gradientUnits="userSpaceOnUse">
<stop offset="0" stop-color="#2c9679"/>
<stop offset="0.02" stop-color="#2a9c7a"/>
<stop offset="0.035" stop-color="#26a582"/>
<stop offset="0.07" stop-color="#2cb18d"/>
<stop offset="0.095" stop-color="#36b893"/>
<stop offset="0.15" stop-color="#55c3a2"/>
<stop offset="0.2" stop-color="#6ccbb0"/>
<stop offset="0.29" stop-color="#7ad0b6"/>
<stop offset="0.305" stop-color="#40b088"/>
<stop offset="0.315" stop-color="#23a073"/>
<stop offset="0.55" stop-color="#22a071"/>
<stop offset="0.67" stop-color="#1f9e6d"/>
<stop offset="0.68" stop-color="#5cc0a2"/>
<stop offset="0.695" stop-color="#72c9af"/>
<stop offset="0.825" stop-color="#74c9b0"/>
<stop offset="0.84" stop-color="#3cb18f"/>
<stop offset="0.865" stop-color="#40b491"/>
<stop offset="0.885" stop-color="#5fc4a6"/>
<stop offset="0.97" stop-color="#66c6aa"/>
<stop offset="0.985" stop-color="#4aa48a"/>
<stop offset="1" stop-color="#3a8c78"/>
</linearGradient>
<linearGradient id="gshoulder" x1="0" y1="62" x2="0" y2="90" gradientUnits="userSpaceOnUse">
<stop offset="0" stop-color="#ffffff" stop-opacity="0.18"/>
<stop offset="0.75" stop-color="#ffffff" stop-opacity="0.08"/>
<stop offset="0.85" stop-color="#0a5a3c" stop-opacity="0.18"/>
<stop offset="1" stop-color="#ffffff" stop-opacity="0"/>
</linearGradient>
<radialGradient id="gface" cx="641.6" cy="65" r="57" gradientUnits="userSpaceOnUse" gradientTransform="translate(0,65) scale(1,0.28) translate(0,-65)">
<stop offset="0" stop-color="#2a9c74"/>
<stop offset="0.75" stop-color="#2fa27a"/>
<stop offset="0.92" stop-color="#46b88f"/>
<stop offset="1" stop-color="#55c09a"/>
</radialGradient>
<linearGradient id="bbody" x1="772.3" y1="0" x2="891.6" y2="0" gradientUnits="userSpaceOnUse">
<stop offset="0" stop-color="#938676"/>
<stop offset="0.02" stop-color="#b4a58c"/>
<stop offset="0.08" stop-color="#c0b094"/>
<stop offset="0.25" stop-color="#bdaa8d"/>
<stop offset="0.42" stop-color="#b39c7b"/>
<stop offset="0.55" stop-color="#b19a78"/>
<stop offset="0.7" stop-color="#baa687"/>
<stop offset="0.85" stop-color="#c0ae90"/>
<stop offset="0.95" stop-color="#bcab8d"/>
<stop offset="0.985" stop-color="#a39584"/>
<stop offset="1" stop-color="#908473"/>
</linearGradient>
<linearGradient id="btop" x1="0" y1="50" x2="0" y2="96" gradientUnits="userSpaceOnUse">
<stop offset="0" stop-color="#c9b595"/>
<stop offset="1" stop-color="#c4ae8e"/>
</linearGradient>
<linearGradient id="bmetal" x1="0" y1="58" x2="0" y2="80" gradientUnits="userSpaceOnUse">
<stop offset="0" stop-color="#555555"/>
<stop offset="0.25" stop-color="#8a8a8a"/>
<stop offset="0.6" stop-color="#a3a3a3"/>
<stop offset="1" stop-color="#b4b4b4"/>
</linearGradient>
<radialGradient id="brim" cx="832" cy="72" r="58.5" gradientUnits="userSpaceOnUse" gradientTransform="translate(0,72) scale(1,0.37) translate(0,-72)">
<stop offset="0" stop-color="#d2c2a6" stop-opacity="0.9"/>
<stop offset="0.7" stop-color="#cbb99c" stop-opacity="0.75"/>
<stop offset="1" stop-color="#c4b294" stop-opacity="0"/>
</radialGradient>
<linearGradient id="btab" x1="755" y1="0" x2="795" y2="0" gradientUnits="userSpaceOnUse">
<stop offset="0" stop-color="#e8e8e8"/>
<stop offset="0.5" stop-color="#d2d2d2"/>
<stop offset="1" stop-color="#bdbdbd"/>
</linearGradient>
<radialGradient id="bshadow" cx="800" cy="105" r="30" gradientUnits="userSpaceOnUse">
<stop offset="0" stop-color="#7a6448" stop-opacity="0.22"/>
<stop offset="1" stop-color="#7a6448" stop-opacity="0"/>
</radialGradient>
<filter id="paper" x="0" y="0" width="100%" height="100%" color-interpolation-filters="sRGB">
<feTurbulence type="fractalNoise" baseFrequency="0.45 0.25" numOctaves="2" seed="7" result="n"/>
<feColorMatrix type="matrix" values="0 0 0 0 0.47  0 0 0 0 0.39  0 0 0 0 0.28  2.6 0 0 0 -1.05" in="n"/>
</filter>
<clipPath id="bclip"><path d="M772.3,73.5 A59.65,23 0 0 1 891.6,73.5 L891.6,270 C891.6,289 863,296.8 831.5,296.8 C800,296.8 772.3,289 772.3,272 Z"/></clipPath>
</defs>
<path d="M584,63 L584,266 C584,283 610,293.5 641.6,293.5 C673,293.5 699.5,282 699.5,264 L699.5,63 Z" fill="none" stroke="#c8f7ec" stroke-width="4" stroke-opacity="0.6"/>
<path d="M584,63 L584,266 C584,283 610,293.5 641.6,293.5 C673,293.5 699.5,282 699.5,264 L699.5,63 Z" fill="url(#gbody)" stroke="#358a72" stroke-width="0.8" stroke-opacity="0.55"/>
<clipPath id="gshc"><rect x="584" y="50" width="35.6" height="45"/><rect x="662.3" y="50" width="37.5" height="45"/></clipPath>
<path d="M584.5,63 C584.5,80 698.8,80 698.8,63 L699,84.5 C690,88.5 600,90 585,84.5 Z" fill="#ffffff" fill-opacity="0.2" clip-path="url(#gshc)"/>
<path d="M585,84.5 C600,90 690,89 699,84.5" fill="none" stroke="#15845a" stroke-opacity="0.45" stroke-width="1.6"/>
<path d="M585,86.5 C600,92 690,91 699,86.5" fill="none" stroke="#ffffff" stroke-opacity="0.12" stroke-width="1.4"/>
<ellipse cx="641.6" cy="62.6" rx="56.8" ry="13.1" fill="url(#gface)"/>
<ellipse cx="634.6" cy="62.0" rx="32.2" ry="8.6" fill="#c97d62"/>
<ellipse cx="636.5" cy="63.0" rx="28.5" ry="6.8" fill="#b86c52" fill-opacity="0.45"/>
<ellipse cx="640.3" cy="61.2" rx="24.2" ry="6.1" fill="#ddd5d2"/>
<ellipse cx="641.5" cy="61.8" rx="19.5" ry="4.3" fill="#c8c0bc"/>
<ellipse cx="641.5" cy="61.0" rx="17" ry="3.2" fill="#d8d2cf"/>
<path d="M627,60.3 L656,59.6" stroke="#8f8886" stroke-width="0.9"/>
<path d="M661.5,53.8 L692,54.4 C699,55 702.5,59 705,65 L725,111.5 C726,114.5 723,117 720.5,116 L718.5,114.5 L700.2,69.5 C698.5,65.5 696,63.6 690,63.4 L662,65.8 Z" fill="#1e1e1e"/>
<path d="M664,56 L690,56.5" stroke="#3a3a3a" stroke-width="1.2"/>
<path d="M552.4,199.5 C552,195.5 558.5,194.3 559.8,198.2 C562,205 564,212 566.3,218.6 C569,226 572,233 575,239.6 C578,246 580,252 582,258.9 C584,264 586,270 587.6,274.6 L590.6,281 C589.5,283 586.5,283 585.2,281.8 C583.5,280.5 582.5,279 581.7,277.8 C579,272 577,268 575,264.1 C572,258 569,252 566.3,246.6 C563,239 560,231 557.5,223.8 C555.5,216 553.5,207 552.4,199.5 Z" fill="#1c1c1c"/>
<path d="M556,201 C559,215 566,236 576,258" stroke="#3c3c3c" stroke-width="1.1" fill="none"/>
<path d="M772.3,73.5 A59.65,23 0 0 1 891.6,73.5 L891.6,270 C891.6,289 863,296.8 831.5,296.8 C800,296.8 772.3,289 772.3,272 Z" fill="url(#bbody)"/>
<g clip-path="url(#bclip)"><rect x="772" y="50" width="120" height="248" filter="url(#paper)" opacity="0.13"/></g>
<ellipse cx="832" cy="72" rx="58.5" ry="21.5" fill="url(#brim)"/>
<rect x="772.3" y="73" width="119.3" height="70" fill="url(#bshadow)"/>
<ellipse cx="832.3" cy="68.8" rx="32.8" ry="10.8" fill="url(#bmetal)"/>
<path d="M800,70 C806,75 826,79.6 846,78 C856,77 862,73.5 864.5,70.5" fill="none" stroke="#c9c9c9" stroke-width="1.2" stroke-opacity="0.7"/>
<path d="M799.5,68.5 C801,62 815,58 832.3,58 C850,58 864,62 865.2,68" fill="none" stroke="#5e4e3c" stroke-width="1.3" stroke-opacity="0.8"/>
<path d="M779,72.3 L857,62.2 C861.5,61.8 864.8,63.2 865,66 C865,68.5 863,70 860,70.5 L784.5,81 Z" fill="#acacac"/>
<path d="M814,76.5 L849,69.8" stroke="#f2f2f2" stroke-width="1.6"/>
<path d="M789,78 L813,75" stroke="#d0d0d0" stroke-width="1.2"/>
<path d="M790,73.5 L830,68" stroke="#9a9a9a" stroke-width="0.8" stroke-opacity="0.6"/>
<path d="M776,78.5 C776.5,75.5 778.5,74 781,74.2 L791.5,78.2 C793.5,79.2 793.5,81.5 790.8,83 L767.8,139.2 L754.3,131.8 Z" fill="url(#btab)" stroke="#ececec" stroke-width="0.9"/>
<path d="M780,82 L760,130" stroke="#bdbdbd" stroke-width="2.2" stroke-opacity="0.5"/>
<path d="M777.5,75.5 L791,80.2" stroke="#f4f4f4" stroke-width="1.4"/>
<path d="M892.6,204.5 L905.5,208.5 L894,265 L891.6,265 Z" fill="#acacac"/>
<path d="M893.5,205 L904.5,208.8" stroke="#cdcdcd" stroke-width="1.2"/>
</svg>
</body></html>
